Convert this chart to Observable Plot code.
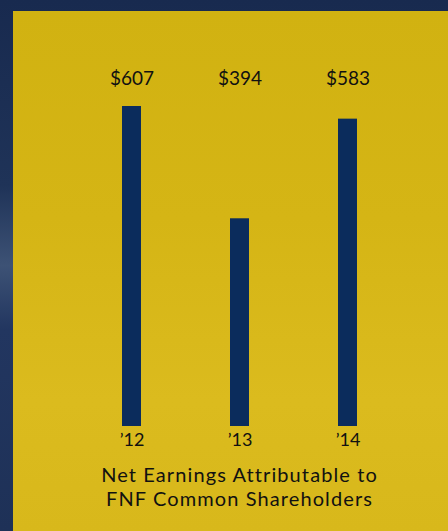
<!DOCTYPE html>
<html><head><meta charset="utf-8">
<script src="https://cdn.jsdelivr.net/npm/d3@7"></script>
<script src="https://cdn.jsdelivr.net/npm/@observablehq/plot@0.6"></script>
<style>
html,body{margin:0;padding:0;}
body{width:448px;height:531px;overflow:hidden;position:relative;
 background:linear-gradient(180deg,#182a4f 0%,#1f3358 35%,#3d5275 50%,#223660 62%,#1e3157 100%);
 font-family:Lato,"Open Sans",sans-serif;}
#panel{position:absolute;left:13px;top:11px;width:435px;height:520px;
 background:linear-gradient(180deg,#d1b211 0%,#d5b515 40%,#dbbb1e 75%,#d8b81b 100%);}
#chart{position:absolute;left:0;top:0;}
.t{position:absolute;left:0;width:453px;text-align:center;
 font-size:20px;line-height:24px;height:24px;color:#111;white-space:nowrap;letter-spacing:1.1px;}
</style></head>
<body>
<div id="panel"><div id="chart"></div>
<div class="t" style="top:451px">Net Earnings Attributable to</div>
<div class="t" style="top:475px">FNF Common Shareholders</div></div>
<script>
const years = ["’12", "’13", "’14"];
const values = [607, 394, 583];
const labels = ["$607", "$394", "$583"];
const data = years.map((y, i) => ({year: y, value: values[i], label: labels[i]}));

const chart = Plot.plot({
  width: 435,
  height: 450,
  marginTop: 95,
  marginBottom: 35,
  marginLeft: 20,
  marginRight: 2,
  style: {background: "transparent", fontFamily: "Lato,'Open Sans',sans-serif", color: "#111"},
  x: {domain: years, padding: 0.824, label: null},
  y: {domain: [0, 607], axis: null},
  marks: [
    Plot.barY(data, {x: "year", y: "value", fill: "#0b2c5c"}),
    Plot.text(data, {x: "year", text: "label", frameAnchor: "top", lineAnchor: "middle", dy: -28, fontSize: 19, fill: "#111"}),
    Plot.axisX({tickSize: 0, tickPadding: 7, fontSize: 18, fill: "#111"})
  ]
});
document.getElementById("chart").appendChild(chart);
</script>
</body></html>
